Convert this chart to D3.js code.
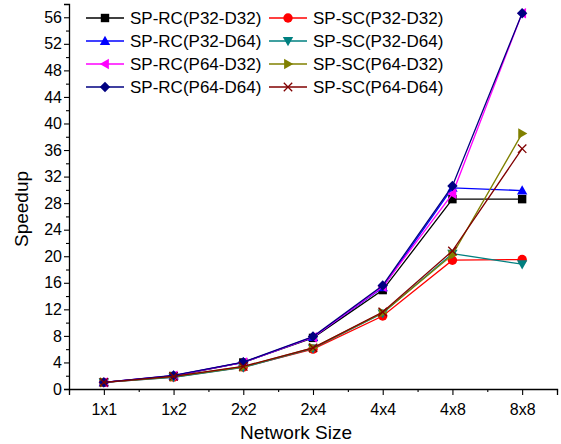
<!DOCTYPE html>
<html>
<head>
<meta charset="utf-8">
<script src="https://cdn.jsdelivr.net/npm/d3@7"></script>
<style>
  body { margin: 0; background: #fff; }
  text { font-family: "Liberation Sans", Arial, sans-serif; fill: #000; }
</style>
</head>
<body>
<div id="chart"></div>
<script>
// network sizes on the x axis
var networkSizes = ["1x1", "1x2", "2x2", "2x4", "4x4", "4x8", "8x8"];

// speedup values per configuration
var rcP32D32 = [1.0, 1.95, 4.0, 7.7, 14.9, 28.6, 28.6];
var rcP32D64 = [1.0, 2.0, 4.0, 7.8, 15.3, 30.3, 29.9];
var rcP64D32 = [1.0, 2.0, 4.0, 7.8, 15.4, 29.4, 56.6];
var rcP64D64 = [1.0, 2.05, 4.05, 7.9, 15.6, 30.6, 56.6];
var scP32D32 = [1.0, 1.8, 3.3, 6.0, 11.0, 19.4, 19.5];
var scP32D64 = [1.0, 1.75, 3.25, 6.1, 11.4, 20.4, 18.8];
var scP64D32 = [1.0, 1.85, 3.35, 6.2, 11.5, 20.2, 38.5];
var scP64D64 = [1.0, 1.9, 3.4, 6.2, 11.6, 20.8, 36.2];

var yTicks = d3.range(0, 57, 4);

var series = [
  { name: "SP-RC(P32-D32)", values: rcP32D32, color: "#000000", marker: "square" },
  { name: "SP-SC(P32-D32)", values: scP32D32, color: "#ff0000", marker: "circle" },
  { name: "SP-RC(P32-D64)", values: rcP32D64, color: "#0000ff", marker: "triUp" },
  { name: "SP-SC(P32-D64)", values: scP32D64, color: "#008080", marker: "triDown" },
  { name: "SP-RC(P64-D32)", values: rcP64D32, color: "#ff00ff", marker: "triLeft" },
  { name: "SP-SC(P64-D32)", values: scP64D32, color: "#808000", marker: "triRight" },
  { name: "SP-RC(P64-D64)", values: rcP64D64, color: "#000080", marker: "diamond" },
  { name: "SP-SC(P64-D64)", values: scP64D64, color: "#800000", marker: "cross" }
];

var svgWidth = 561;
var svgHeight = 444;
var margin = { top: 4, right: 4, bottom: 55, left: 69 };
var width = svgWidth - margin.left - margin.right;
var height = svgHeight - margin.top - margin.bottom;

var svg = d3.select("#chart").append("svg")
  .attr("width", svgWidth)
  .attr("height", svgHeight);

var g = svg.append("g")
  .attr("transform", `translate(${margin.left}, ${margin.top})`);

var x = d3.scaleLinear().domain([0.5, 7.5]).range([0, width]);
var y = d3.scaleLinear().domain([0, 58]).range([height, 0]);

// minor ticks
g.append("g")
  .attr("transform", `translate(0, ${height})`)
  .call(d3.axisBottom(x).tickValues(d3.range(0.5, 7.6, 1)).tickSize(3).tickFormat(""))
  .call(a => a.select(".domain").remove());
g.append("g")
  .call(d3.axisLeft(y).tickValues(d3.range(2, 57, 4)).tickSize(3).tickFormat(""))
  .call(a => a.select(".domain").remove());

// major axes
var xAxis = g.append("g")
  .attr("transform", `translate(0, ${height})`)
  .call(d3.axisBottom(x).tickValues(d3.range(1, 8)).tickSize(6).tickPadding(9)
    .tickFormat(d => networkSizes[d - 1]));
var yAxis = g.append("g")
  .call(d3.axisLeft(y).tickValues(yTicks).tickSize(5).tickPadding(2));

g.selectAll(".domain").attr("stroke", "#000").attr("stroke-width", 1.3);
g.selectAll(".tick line").attr("stroke", "#000").attr("stroke-width", 1.1);
g.selectAll(".tick text").style("font-size", "16px")
  .style("font-family", "'Liberation Sans', Arial, sans-serif");

// axis titles
svg.append("text")
  .attr("x", 296)
  .attr("y", 439)
  .attr("text-anchor", "middle")
  .style("font-size", "19px")
  .text("Network Size");

svg.append("text")
  .attr("transform", "translate(28, 209) rotate(-90)")
  .attr("text-anchor", "middle")
  .style("font-size", "19px")
  .text("Speedup");

function drawMarker(sel, type, color, cx, cy) {
  var s = 4.2;
  if (type === "square") {
    sel.append("rect").attr("x", cx - s).attr("y", cy - s)
      .attr("width", 2 * s).attr("height", 2 * s).attr("fill", color);
  } else if (type === "circle") {
    sel.append("circle").attr("cx", cx).attr("cy", cy).attr("r", s + 0.5).attr("fill", color);
  } else if (type === "cross") {
    sel.append("path")
      .attr("d", `M${cx - s},${cy - s}L${cx + s},${cy + s}M${cx - s},${cy + s}L${cx + s},${cy - s}`)
      .attr("stroke", color).attr("stroke-width", 1.3).attr("fill", "none");
  } else {
    var r = s + 1;
    var pts;
    if (type === "triUp") pts = [[0, -r], [r, r * 0.75], [-r, r * 0.75]];
    if (type === "triDown") pts = [[0, r], [r, -r * 0.75], [-r, -r * 0.75]];
    if (type === "triLeft") pts = [[-r, 0], [r * 0.75, -r], [r * 0.75, r]];
    if (type === "triRight") pts = [[r, 0], [-r * 0.75, -r], [-r * 0.75, r]];
    if (type === "diamond") pts = [[0, -r], [r, 0], [0, r], [-r, 0]];
    sel.append("path")
      .attr("d", "M" + pts.map(p => (cx + p[0]) + "," + (cy + p[1])).join("L") + "Z")
      .attr("fill", color);
  }
}

var line = d3.line()
  .x((d, i) => x(i + 1))
  .y(d => y(d));

series.forEach(function(s) {
  var sg = g.append("g");
  sg.append("path")
    .datum(s.values)
    .attr("d", line)
    .attr("fill", "none")
    .attr("stroke", s.color)
    .attr("stroke-width", 1.3);
  s.values.forEach(function(v, i) {
    drawMarker(sg, s.marker, s.color, x(i + 1), y(v));
  });
});

// legend, two columns
var legend = svg.append("g");
series.forEach(function(s, i) {
  var col = i % 2;
  var row = Math.floor(i / 2);
  var lx = col === 0 ? 86 : 269;
  var ly = 18 + row * 23;
  var lg = legend.append("g");
  lg.append("line")
    .attr("x1", lx).attr("x2", lx + 38)
    .attr("y1", ly).attr("y2", ly)
    .attr("stroke", s.color).attr("stroke-width", 1.3);
  drawMarker(lg, s.marker, s.color, lx + 19, ly);
  lg.append("text")
    .attr("x", lx + 44)
    .attr("y", ly + 6)
    .style("font-size", "17px")
    .text(s.name);
});
</script>
</body>
</html>
